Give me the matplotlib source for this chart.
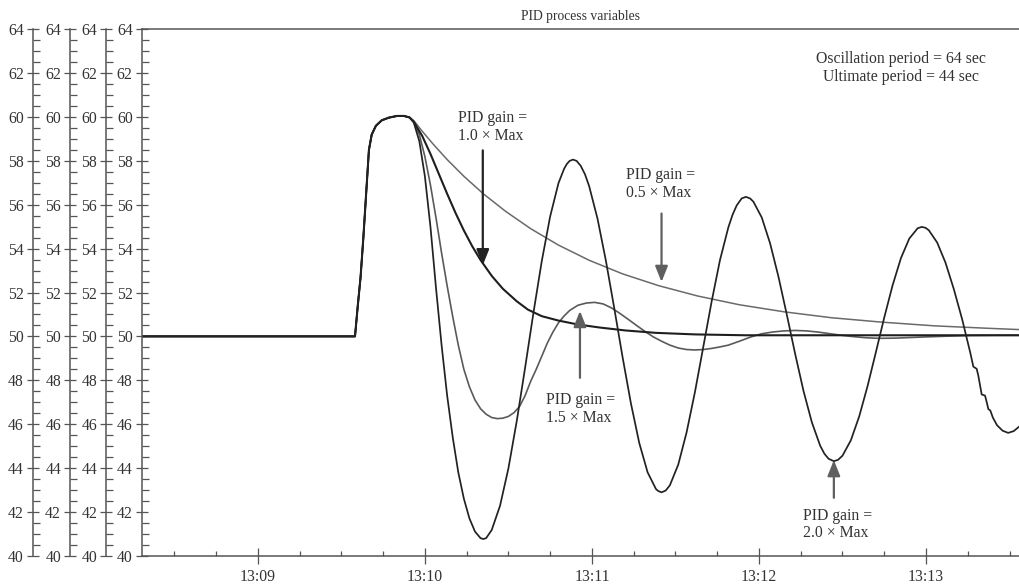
import matplotlib
matplotlib.use('Agg')
import matplotlib.pyplot as plt
from matplotlib.ticker import MultipleLocator, FuncFormatter

plt.rcParams['font.family'] = 'Liberation Serif'
plt.rcParams['font.size'] = 11.3

# seconds after 13:08:00
t_lead = [18.3, 94.9, 95.9, 96.9, 97.9, 98.9, 99.9, 100.9, 102.4, 104.5, 107.0, 110.0, 112.5, 114.5]
pv_lead = [50.0, 50.0, 51.4, 52.7, 54.5, 56.5, 58.5, 59.2, 59.6, 59.85, 59.97, 60.05, 60.05, 59.98]

# gain 0.5 x max
t_g05 = [116, 119, 123, 128, 134, 141, 149, 158, 168, 179, 191, 204, 218, 233, 249, 266, 284, 303, 322, 333.4]
pv_g05 = [59.84, 59.36, 58.76, 58.06, 57.30, 56.50, 55.70, 54.91, 54.16, 53.47, 52.85, 52.31, 51.84,
          51.44, 51.12, 50.85, 50.65, 50.48, 50.37, 50.31]

# gain 1.0 x max
t_g10 = [116, 119, 122, 125, 128, 131, 134, 137, 140, 144, 148, 153, 157, 162, 168, 175, 183, 192,
         203, 217, 235, 260, 333.4]
pv_g10 = [59.78, 59.15, 58.32, 57.41, 56.50, 55.63, 54.83, 54.11, 53.48, 52.76, 52.17, 51.60, 51.22,
          50.92, 50.72, 50.54, 50.40, 50.27, 50.16, 50.09, 50.05, 50.05, 50.05]

# gain 1.5 x max
t_g15 = [116, 118, 120, 122, 124, 126, 128, 130, 132, 134, 136, 138, 140, 142, 144, 146, 148, 150,
         152, 154, 156, 158, 160, 162, 164, 166, 168, 170, 172, 175, 178, 181, 184, 187, 190, 193,
         196, 199, 202, 205, 208, 211, 214, 217, 220, 223, 226, 229, 233, 237, 241, 245, 249, 253,
         257, 261, 265, 269, 273, 278, 283, 289, 295, 301, 308, 316, 325, 333.4]
pv_g15 = [59.8, 59.2, 58.2, 56.9, 55.4, 53.8, 52.3, 50.9, 49.6, 48.5, 47.7, 47.1, 46.7, 46.45, 46.3,
          46.25, 46.27, 46.35, 46.52, 46.8, 47.3, 47.95, 48.5, 49.1, 49.7, 50.2, 50.62, 50.93, 51.18,
          51.42, 51.52, 51.55, 51.48, 51.3, 51.05, 50.78, 50.5, 50.23, 49.98, 49.78, 49.6, 49.47, 49.4,
          49.38, 49.4, 49.45, 49.52, 49.6, 49.78, 49.97, 50.12, 50.2, 50.25, 50.27, 50.25, 50.2, 50.13,
          50.06, 50.0, 49.94, 49.91, 49.92, 49.95, 49.98, 50.01, 50.04, 50.05, 50.05]

# gain 2.0 x max
t_g20 = [116, 118, 120, 122, 124, 126, 128, 130, 132, 134, 136, 138, 140, 141, 142, 144, 147, 150,
         153, 156, 159, 162, 165, 168, 170, 171, 172, 173.2, 174.5, 176, 177.5, 179, 182, 185, 188,
         191, 194, 197, 200, 203, 203.8, 205, 206.5, 208, 211, 214, 217, 220, 223, 226, 229, 230.5,
         232, 233.8, 235.3, 236.8, 238, 241, 244, 247, 250, 253, 256, 259, 262, 263.5, 265, 266.9,
         268.4, 270, 273, 276, 279, 282, 285, 288, 291, 294, 297, 298.5, 299.8, 301, 304, 307, 310,
         313, 316, 317.0, 318.2, 318.8, 320.0, 321.2, 321.8, 322.4, 323.1, 324.0, 325.5, 327.5,
         329.5, 331.5, 333.4]
pv_g20 = [59.75, 58.9, 57.3, 55.0, 52.2, 49.6, 47.3, 45.4, 43.8, 42.6, 41.7, 41.1, 40.8, 40.76, 40.8,
          41.17, 42.28, 43.98, 46.14, 48.57, 51.08, 53.44, 55.47, 56.99, 57.64, 57.86, 58.0, 58.06,
          58.0, 57.77, 57.39, 56.85, 55.37, 53.46, 51.30, 49.06, 46.95, 45.14, 43.80, 43.04, 42.95,
          42.89, 42.97, 43.21, 44.15, 45.62, 47.46, 49.52, 51.59, 53.48, 54.97, 55.54, 55.97, 56.29,
          56.36, 56.29, 56.14, 55.42, 54.24, 52.72, 50.99, 49.20, 47.51, 46.08, 45.01, 44.65, 44.42,
          44.31, 44.37, 44.56, 45.26, 46.35, 47.73, 49.28, 50.86, 52.33, 53.57, 54.46, 54.93, 54.99,
          54.95, 54.84, 54.28, 53.36, 52.15, 50.77, 49.2, 48.62, 48.52, 48.2, 47.35, 47.3, 47.0,
          46.68, 46.62, 46.3, 45.95, 45.7, 45.6, 45.68, 45.88]

axis_col = '#555555'
text_col = '#333333'

fig = plt.figure(figsize=(10.19, 5.86), dpi=100)
ax = fig.add_axes([0.1391, 0.0517, 0.8609, 0.8983])

ax.plot(t_lead + t_g05, pv_lead + pv_g05, color='#6a6a6a', lw=1.1)
ax.plot(t_lead + t_g15, pv_lead + pv_g15, color='#5a5a5a', lw=1.2)
ax.plot(t_lead + t_g10, pv_lead + pv_g10, color='#1e1e1e', lw=1.5)
ax.plot(t_lead + t_g20, pv_lead + pv_g20, color='#222222', lw=1.25)

ax.set_xlim(18.3, 333.4)
ax.set_ylim(40, 64)

# x axis as clock time
ax.xaxis.set_major_locator(MultipleLocator(60))
ax.xaxis.set_minor_locator(MultipleLocator(15))
ax.xaxis.set_major_formatter(FuncFormatter(lambda s, pos: '13:%02d' % (int(round(s)) // 60 + 8)))


def style_y(a):
    a.set_ylim(40, 64)
    a.yaxis.set_major_locator(MultipleLocator(2))
    a.yaxis.set_minor_locator(MultipleLocator(0.5))
    a.tick_params(axis='y', which='major', direction='inout', length=9, width=0.9,
                  color=axis_col, labelcolor=text_col, pad=2)
    a.tick_params(axis='y', which='minor', direction='in', length=4.8, width=0.9, color=axis_col)


style_y(ax)
ax.tick_params(axis='x', which='major', direction='inout', length=11, width=0.9,
               color=axis_col, labelcolor=text_col, pad=4)
ax.tick_params(axis='x', which='minor', direction='in', length=3.8, width=0.9, color=axis_col)
ax.spines['right'].set_visible(False)
for s in ['left', 'bottom', 'top']:
    ax.spines[s].set_color(axis_col)
    ax.spines[s].set_linewidth(1.1)

# three more scales stacked on the left
for off in [-0.1242, -0.0817, -0.0404]:
    ax2 = ax.twinx()
    for s in ['right', 'top', 'bottom']:
        ax2.spines[s].set_visible(False)
    ax2.spines['left'].set_visible(True)
    ax2.spines['left'].set_position(('axes', off))
    ax2.spines['left'].set_color(axis_col)
    ax2.spines['left'].set_linewidth(1.1)
    ax2.yaxis.tick_left()
    style_y(ax2)

ax.set_title('PID process variables', color=text_col, fontsize=9.8, pad=7)

ax.text(291.0, 62.24, 'Oscillation period = 64 sec\nUltimate period = 44 sec',
        ha='center', va='center', color=text_col, linespacing=1.15)

labels = [
    (131.9, 59.56, 'PID gain =\n1.0 × Max'),
    (192.1, 56.96, 'PID gain =\n0.5 × Max'),
    (163.5, 46.69, 'PID gain =\n1.5 × Max'),
    (255.7, 41.42, 'PID gain =\n2.0 × Max'),
]
for x, y, s in labels:
    ax.text(x, y, s, ha='left', va='center', color=text_col, linespacing=1.15)

arrows = [
    (140.8, 58.48, 53.24, '#222222'),
    (205.0, 55.60, 52.48, '#5f5f5f'),
    (175.7, 48.11, 51.16, '#5f5f5f'),
    (266.9, 42.64, 44.36, '#5f5f5f'),
]
for x, y0, y1, c in arrows:
    ax.annotate('', xy=(x, y1), xytext=(x, y0),
                arrowprops=dict(arrowstyle='-|>,head_width=0.38,head_length=0.95',
                                color=c, lw=1.6, shrinkA=0, shrinkB=0, mutation_scale=10))

fig.savefig('out.png', dpi=100)
